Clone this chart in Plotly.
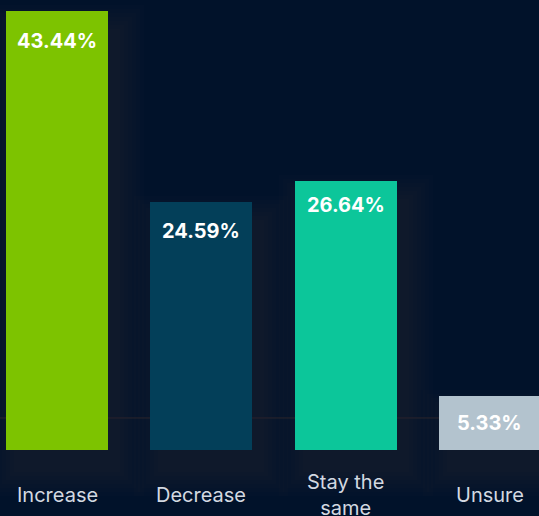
import plotly.graph_objects as go

# Survey answers and their shares (%)
categories = ["Increase", "Decrease", "Stay the same", "Unsure"]
tick_labels = ["Increase", "Decrease", "Stay the<br>same", "Unsure"]
values = [43.44, 24.59, 26.64, 5.33]
bar_colors = ["#7dc300", "#033f59", "#0cc69a", "#b3c3ce"]

BG = "#01122a"
BAR_W = 0.707
PX_X = 144.3   # pixels per category step
PX_Y = 10.1    # pixels per percentage point
label_drop = [30, 29, 24, 27]  # distance of value label below bar top, px

fig = go.Figure()

# soft drop shadow behind each bar, built from many faint layers
dx, dy = 10 / PX_X, 20 / PX_Y
for s_px in [26, 22, 18, 14, 10, 6, 2]:
    sx, sy = s_px / PX_X, s_px / PX_Y
    fig.add_trace(go.Bar(
        x=list(range(len(values))),
        y=[v + 2 * sy for v in values],
        base=-dy - sy,
        width=BAR_W + 2 * sx,
        offset=-BAR_W / 2 + dx - sx,
        marker=dict(color="rgba(48,44,58,0.07)", line=dict(width=0)),
        hoverinfo="skip",
        showlegend=False,
    ))

fig.add_trace(go.Bar(
    x=list(range(len(values))),
    y=values,
    width=BAR_W,
    marker=dict(color=bar_colors, line=dict(width=0)),
    showlegend=False,
))

annotations = []
for i, v in enumerate(values):
    annotations.append(dict(
        x=i, y=v, xref="x", yref="y", yshift=-label_drop[i],
        text=f"{v:.2f}%", showarrow=False, yanchor="middle",
        font=dict(family="Inter", size=20, color="#ffffff", weight="bold"),
    ))
    annotations.append(dict(
        x=i, y=-45 / PX_Y, xref="x", yref="y",
        text=tick_labels[i], showarrow=False, yanchor="middle",
        font=dict(family="Inter", size=20, color="#d3d9e1"),
    ))

fig.update_layout(
    width=539, height=516,
    margin=dict(l=0, r=0, t=0, b=0),
    paper_bgcolor=BG, plot_bgcolor=BG,
    barmode="overlay",
    bargap=0,
    xaxis=dict(range=[-57 / PX_X, (539 - 57) / PX_X], visible=False, fixedrange=True),
    yaxis=dict(range=[-66 / PX_Y, 450 / PX_Y], visible=False, fixedrange=True),
    annotations=annotations,
    shapes=[dict(
        type="line", xref="paper", x0=0, x1=1, yref="y", y0=3.17, y1=3.17,
        line=dict(color="#2c2326", width=1), layer="below",
    )],
)

fig.write_html("out.html")
